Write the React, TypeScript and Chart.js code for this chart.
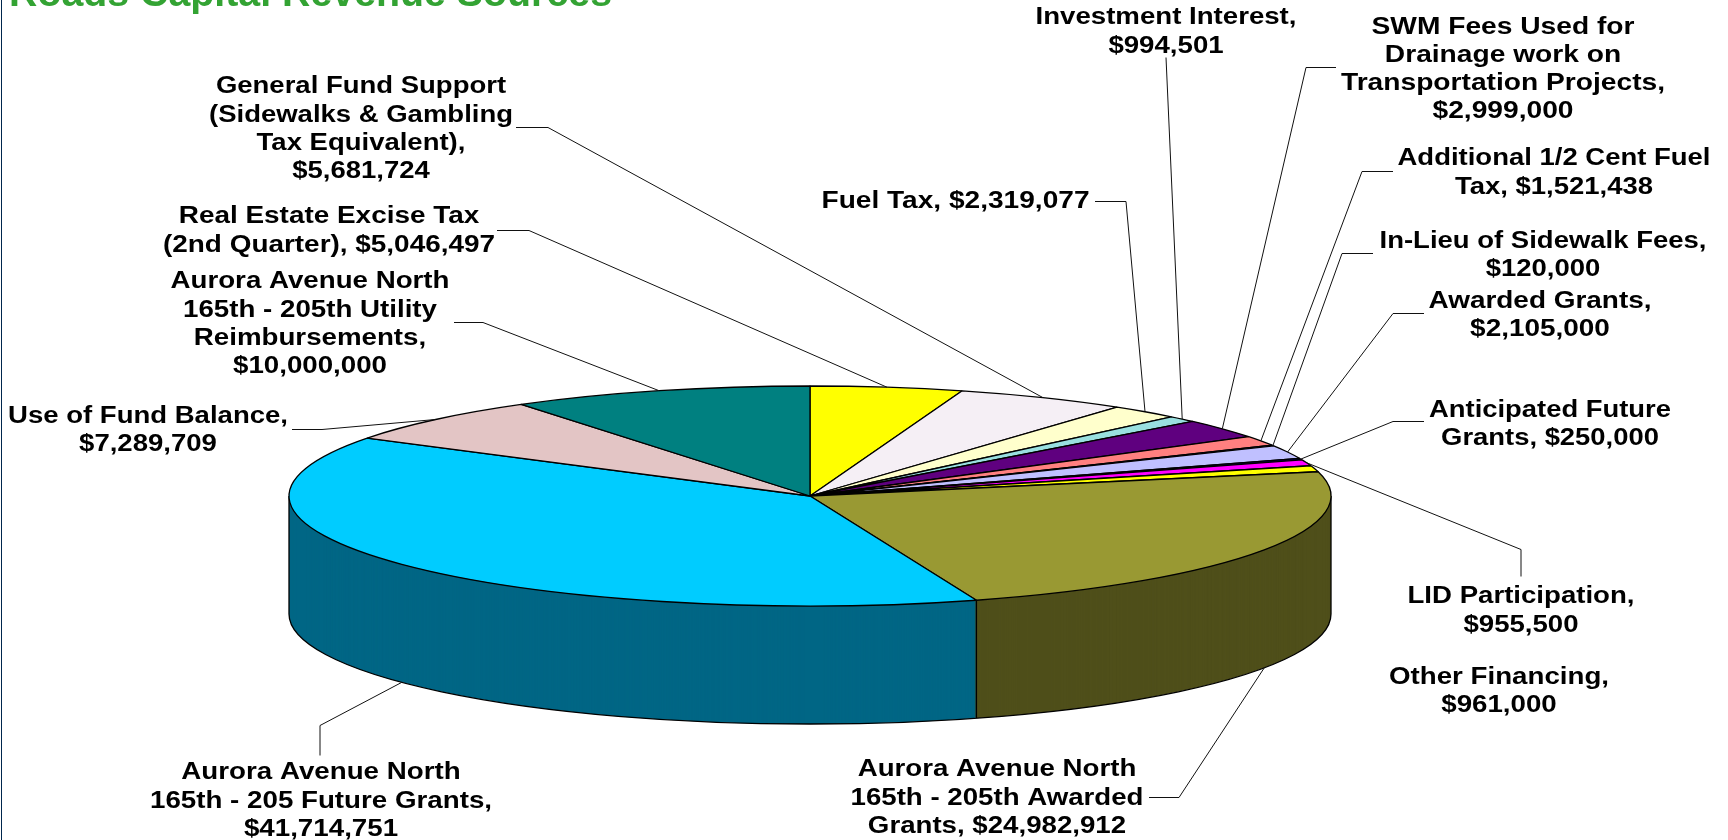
import React, { useEffect, useRef } from "react";
import { Chart, registerables } from "chart.js";

Chart.register(...registerables);

const categories = [
  "Real Estate Excise Tax (2nd Quarter)",
  "General Fund Support (Sidewalks & Gambling Tax Equivalent)",
  "Fuel Tax",
  "Investment Interest",
  "SWM Fees Used for Drainage work on Transportation Projects",
  "Additional 1/2 Cent Fuel Tax",
  "In-Lieu of Sidewalk Fees",
  "Awarded Grants",
  "Anticipated Future Grants",
  "LID Participation",
  "Other Financing",
  "Aurora Avenue North 165th - 205th Awarded Grants",
  "Aurora Avenue North 165th - 205 Future Grants",
  "Use of Fund Balance",
  "Aurora Avenue North 165th - 205th Utility Reimbursements",
];
const revenue = [
  5046497, 5681724, 2319077, 994501, 2999000, 1521438, 120000, 2105000, 250000,
  955500, 961000, 24982912, 41714751, 7289709, 10000000,
];
const topColors = [
  "#FFFF00", "#F5EFF5", "#FFFFCC", "#99E0E0", "#5F007F", "#FF8080", "#000080", "#C0C0FF",
  "#000080", "#FF00FF", "#FFFF00", "#999933", "#00CCFF", "#E3C5C5", "#008080",
];
const wallColors = [
  "#808000", "#7A777A", "#808066", "#4D7070", "#300040", "#804040", "#000040", "#606080",
  "#000040", "#800080", "#808000", "#4F4F1A", "#006685", "#726262", "#004040",
];
const titleText = "Roads Capital Revenue Sources";

// label text blocks and leader-line elbows, in slice order
const labelBlocks = [
  { lines: ["Real Estate Excise Tax", "(2nd Quarter), $5,046,497"], cx: 329, y0: 217, w: 332, ref: 1, elbow: [[497, 230], [529, 230]] },
  { lines: ["General Fund Support", "(Sidewalks & Gambling", "Tax Equivalent),", "$5,681,724"], cx: 361, y0: 87, w: 304, ref: 1, elbow: [[516, 127], [548, 127]] },
  { lines: ["Fuel Tax, $2,319,077"], cx: 955.5, y0: 202, w: 268, ref: 0, elbow: [[1095, 201], [1126, 201]] },
  { lines: ["Investment Interest,", "$994,501"], cx: 1166, y0: 18, w: 261, ref: 0, elbow: [[1166, 57]] },
  { lines: ["SWM Fees Used for", "Drainage work on", "Transportation Projects,", "$2,999,000"], cx: 1503, y0: 27.5, w: 324, ref: 2, elbow: [[1336, 67], [1306, 67]] },
  { lines: ["Additional 1/2 Cent Fuel", "Tax, $1,521,438"], cx: 1554, y0: 159, w: 313, ref: 0, elbow: [[1393, 171], [1362, 171]] },
  { lines: ["In-Lieu of Sidewalk Fees,", "$120,000"], cx: 1543, y0: 241.5, w: 327, ref: 0, elbow: [[1373, 253], [1342, 253]] },
  { lines: ["Awarded Grants,", "$2,105,000"], cx: 1540, y0: 301.5, w: 223, ref: 0, elbow: [[1424, 313], [1393, 313]] },
  { lines: ["Anticipated Future", "Grants, $250,000"], cx: 1550, y0: 410.5, w: 242, ref: 0, elbow: [[1424, 421], [1393, 421]] },
  { lines: ["LID Participation,", "$955,500"], cx: 1521, y0: 597, w: 227, ref: 0, elbow: [[1521, 576], [1521, 549]] },
  { lines: ["Other Financing,", "$961,000"], cx: 1499, y0: 677.5, w: 220, ref: 0, elbow: null },
  { lines: ["Aurora Avenue North", "165th - 205th Awarded", "Grants, $24,982,912"], cx: 997, y0: 770, w: 293, ref: 1, elbow: [[1149, 797], [1179, 797]] },
  { lines: ["Aurora Avenue North", "165th - 205 Future Grants,", "$41,714,751"], cx: 321, y0: 773, w: 342, ref: 1, elbow: [[320, 755], [320, 725]] },
  { lines: ["Use of Fund Balance,", "$7,289,709"], cx: 148, y0: 416.5, w: 280, ref: 0, elbow: [[292, 429], [322, 429]] },
  { lines: ["Aurora Avenue North", "165th - 205th Utility", "Reimbursements,", "$10,000,000"], cx: 310, y0: 282, w: 279, ref: 0, elbow: [[454, 322], [483, 322]] },
];

const RADIUS = 521;
const SQUASH = 110 / 521;
const DEPTH = 118;
const LINE_H = 28.2;
const FONT = 'bold 23px "Liberation Sans", Arial, sans-serif';

const tiltPlugin = {
  id: "tilt",
  beforeDatasetDraw(chart: any) {
    const ctx = chart.ctx;
    const arcs = chart.getDatasetMeta(0).data;
    const cx = arcs[0].x;
    const cy = arcs[0].y;
    const r = arcs[0].outerRadius;
    const ry = r * SQUASH;

    // side wall: the same arcs, stepped downward in darker colours
    for (let d = DEPTH; d >= 1; d -= 1) {
      ctx.save();
      ctx.translate(cx, cy + d);
      ctx.scale(1, SQUASH);
      ctx.translate(-cx, -cy);
      arcs.forEach((arc: any, i: number) => {
        const ghost = Object.create(arc, {
          options: { value: { ...arc.options, backgroundColor: wallColors[i], borderWidth: 0 } },
        });
        arc.draw.call(ghost, ctx);
      });
      ctx.restore();
    }

    // wall outline
    ctx.save();
    ctx.strokeStyle = "#000";
    ctx.lineWidth = 1.3;
    ctx.beginPath();
    ctx.ellipse(cx, cy + DEPTH, r, ry, 0, 0, Math.PI);
    ctx.moveTo(cx - r, cy);
    ctx.lineTo(cx - r, cy + DEPTH);
    ctx.moveTo(cx + r, cy);
    ctx.lineTo(cx + r, cy + DEPTH);
    arcs.forEach((arc: any) => {
      const sx = cx + r * Math.cos(arc.startAngle);
      const sy = cy + ry * Math.sin(arc.startAngle);
      if (Math.sin(arc.startAngle) > 0) {
        ctx.moveTo(sx, sy);
        ctx.lineTo(sx, sy + DEPTH);
      }
    });
    ctx.stroke();
    ctx.restore();

    // top face: squash the disc, but stroke with an unsquashed pen
    ctx.save();
    ctx.translate(cx, cy);
    ctx.scale(1, SQUASH);
    ctx.translate(-cx, -cy);
    const proto = CanvasRenderingContext2D.prototype.stroke;
    ctx.stroke = function () {
      ctx.save();
      ctx.setTransform(1, 0, 0, 1, 0, 0);
      proto.call(ctx);
      ctx.restore();
    };
  },
  afterDatasetDraw(chart: any) {
    const ctx = chart.ctx;
    delete ctx.stroke;
    ctx.restore();
  },
  afterDraw(chart: any) {
    const ctx = chart.ctx;
    const arcs = chart.getDatasetMeta(0).data;
    const cx = arcs[0].x;
    const cy = arcs[0].y;
    const r = arcs[0].outerRadius;
    const ry = r * SQUASH;

    ctx.save();
    // frame line on the left edge
    ctx.fillStyle = "#00264D";
    ctx.fillRect(1, 0, 1, 840);

    // title, cropped by the top of the page
    ctx.font = 'bold 38px "Liberation Sans", Arial, sans-serif';
    ctx.textAlign = "left";
    ctx.textBaseline = "alphabetic";
    ctx.fillStyle = "#33A333";
    const tw = ctx.measureText(titleText).width;
    ctx.save();
    ctx.translate(9, 6);
    ctx.scale(603 / tw, 1);
    ctx.fillText(titleText, 0, 0);
    ctx.restore();

    // leader lines end on the rim at each slice's middle
    ctx.strokeStyle = "#111";
    ctx.lineWidth = 1;
    labelBlocks.forEach((b, i) => {
      if (!b.elbow) return;
      const mid = (arcs[i].startAngle + arcs[i].endAngle) / 2;
      const sn = Math.sin(mid);
      const ex = cx + r * Math.cos(mid);
      const ey = cy + ry * sn + (sn > 0 ? DEPTH : 0);
      ctx.beginPath();
      b.elbow.forEach((p, k) => {
        if (k === 0) ctx.moveTo(p[0], p[1] + 0.5);
        else ctx.lineTo(p[0], p[1] + 0.5);
      });
      ctx.lineTo(ex, ey);
      ctx.stroke();
    });

    // label text
    ctx.font = FONT;
    ctx.textAlign = "center";
    ctx.textBaseline = "middle";
    ctx.fillStyle = "#000";
    labelBlocks.forEach((b) => {
      const sx = b.w / ctx.measureText(b.lines[b.ref]).width;
      b.lines.forEach((line, k) => {
        ctx.save();
        ctx.translate(b.cx, b.y0 + k * LINE_H);
        ctx.scale(sx, 1);
        ctx.fillText(line, 0, 0);
        ctx.restore();
      });
    });
    ctx.restore();
  },
};

export default function App() {
  const ref = useRef<HTMLCanvasElement>(null);
  useEffect(() => {
    const chart = new Chart(ref.current!, {
      type: "pie",
      data: {
        labels: categories,
        datasets: [
          {
            data: revenue,
            backgroundColor: topColors,
            borderColor: "#000",
            borderWidth: 1.3,
            clip: false,
          },
        ],
      } as any,
      options: {
        animation: false,
        responsive: false,
        radius: RADIUS,
        layout: { padding: { top: 152, right: 108, left: 0, bottom: 0 } },
        plugins: { legend: { display: false }, tooltip: { enabled: false }, title: { display: false } },
      } as any,
      plugins: [tiltPlugin],
    });
    return () => chart.destroy();
  }, []);
  return (
    <div style={{ position: "absolute", left: 0, top: 0, width: 1728, height: 840, background: "#fff", overflow: "hidden" }}>
      <canvas ref={ref} width={1728} height={840} style={{ display: "block" }} />
    </div>
  );
}
